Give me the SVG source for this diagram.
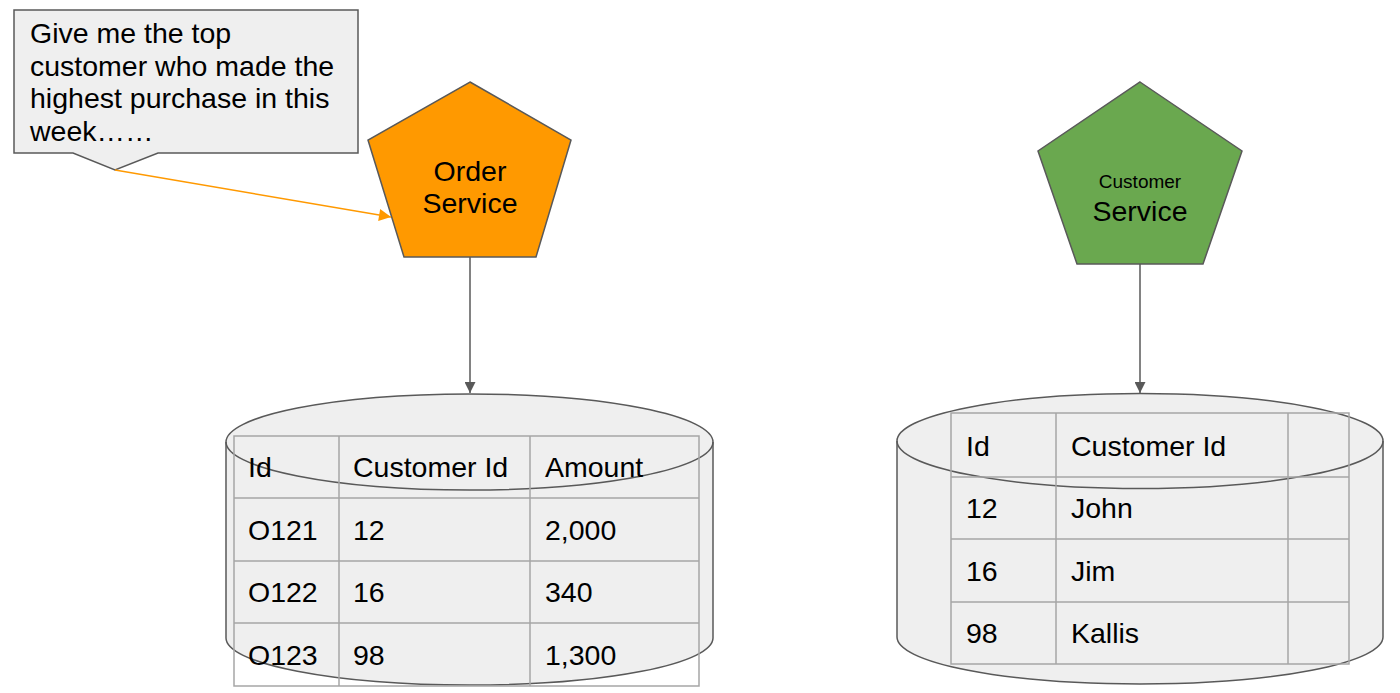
<svg xmlns="http://www.w3.org/2000/svg" width="1400" height="693" viewBox="0 0 1400 693">
<style>
  text { font-family: "Liberation Sans", Arial, sans-serif; fill: #000; }
  .t28 { font-size: 28.5px; }
  .mid { text-anchor: middle; }
  .shape { stroke: #595959; stroke-width: 1.5; }
  .cyl { fill: #efefef; stroke: #595959; stroke-width: 1.5; }
  .grid { fill: none; stroke: #a6a6a6; stroke-width: 1.5; }
  .conn { fill: none; stroke: #595959; stroke-width: 1.5; }
</style>
<defs>
  <marker id="arrGray" viewBox="0 0 10 10" refX="10" refY="5" markerWidth="12" markerHeight="11" markerUnits="userSpaceOnUse" orient="auto">
    <path d="M0,0 L10,5 L0,10 Z" fill="#595959"/>
  </marker>
  <marker id="arrOrange" viewBox="0 0 10 10" refX="10" refY="5" markerWidth="13" markerHeight="12" markerUnits="userSpaceOnUse" orient="auto">
    <path d="M0,0 L10,5 L0,10 Z" fill="#ff9900"/>
  </marker>
</defs>
<rect width="1400" height="693" fill="#ffffff"/>

<g id="callout">
  <path d="M14,10 H358 V153 H158 L115,170 L73,153 H14 Z" fill="#efefef" class="shape"/>
  <text class="t28" x="30" y="43">Give me the top</text>
  <text class="t28" x="30" y="76">customer who made the</text>
  <text class="t28" x="30" y="108">highest purchase in this</text>
  <text class="t28" x="30" y="141">week……</text>
</g>

<g id="order-service">
  <polygon points="470,82 571,140 536,257 404,257 368,140" fill="#ff9900" class="shape"/>
  <text class="t28 mid" x="470" y="181">Order</text>
  <text class="t28 mid" x="470" y="213">Service</text>
</g>

<g id="customer-service">
  <polygon points="1140,82 1242,151 1203,264 1077,264 1038,151" fill="#6aa84f" class="shape"/>
  <text class="mid" style="font-size:19px" x="1140" y="188">Customer</text>
  <text class="t28 mid" x="1140" y="221">Service</text>
</g>

<g id="order-db">
  <path class="cyl" d="M226,442 A243,48 0 0 1 713,442 V638 A243,47 0 0 1 226,638 Z"/>
  <path class="cyl" style="fill:none" d="M226,442 A243,48 0 0 0 713,442"/>
  <rect class="grid" x="234" y="436" width="465" height="250"/>
  <line class="grid" x1="339" y1="436" x2="339" y2="686"/>
  <line class="grid" x1="530" y1="436" x2="530" y2="686"/>
  <line class="grid" x1="234" y1="498" x2="699" y2="498"/>
  <line class="grid" x1="234" y1="561" x2="699" y2="561"/>
  <line class="grid" x1="234" y1="623" x2="699" y2="623"/>
  <text class="t28" x="248" y="477">Id</text>
  <text class="t28" x="353" y="477">Customer Id</text>
  <text class="t28" x="545" y="477">Amount</text>
  <text class="t28" x="248" y="540">O121</text>
  <text class="t28" x="353" y="540">12</text>
  <text class="t28" x="545" y="540">2,000</text>
  <text class="t28" x="248" y="602">O122</text>
  <text class="t28" x="353" y="602">16</text>
  <text class="t28" x="545" y="602">340</text>
  <text class="t28" x="248" y="665">O123</text>
  <text class="t28" x="353" y="665">98</text>
  <text class="t28" x="545" y="665">1,300</text>
</g>

<g id="customer-db">
  <path class="cyl" d="M897,441 A243,47.5 0 0 1 1383,441 V637 A243,47 0 0 1 897,637 Z"/>
  <path class="cyl" style="fill:none" d="M897,441 A243,47.5 0 0 0 1383,441"/>
  <rect class="grid" x="951" y="413" width="398" height="251"/>
  <line class="grid" x1="1056" y1="413" x2="1056" y2="664"/>
  <line class="grid" x1="1288" y1="413" x2="1288" y2="664"/>
  <line class="grid" x1="951" y1="477" x2="1349" y2="477"/>
  <line class="grid" x1="951" y1="539" x2="1349" y2="539"/>
  <line class="grid" x1="951" y1="602" x2="1349" y2="602"/>
  <text class="t28" x="966" y="456">Id</text>
  <text class="t28" x="1071" y="456">Customer Id</text>
  <text class="t28" x="966" y="518">12</text>
  <text class="t28" x="1071" y="518">John</text>
  <text class="t28" x="966" y="581">16</text>
  <text class="t28" x="1071" y="581">Jim</text>
  <text class="t28" x="966" y="643">98</text>
  <text class="t28" x="1071" y="643">Kallis</text>
</g>

<g id="connectors">
  <line x1="115" y1="170" x2="391" y2="217" stroke="#ff9900" stroke-width="1.5" marker-end="url(#arrOrange)"/>
  <line class="conn" x1="470" y1="257" x2="470" y2="393" marker-end="url(#arrGray)"/>
  <line class="conn" x1="1140" y1="264" x2="1140" y2="393" marker-end="url(#arrGray)"/>
</g>
</svg>
